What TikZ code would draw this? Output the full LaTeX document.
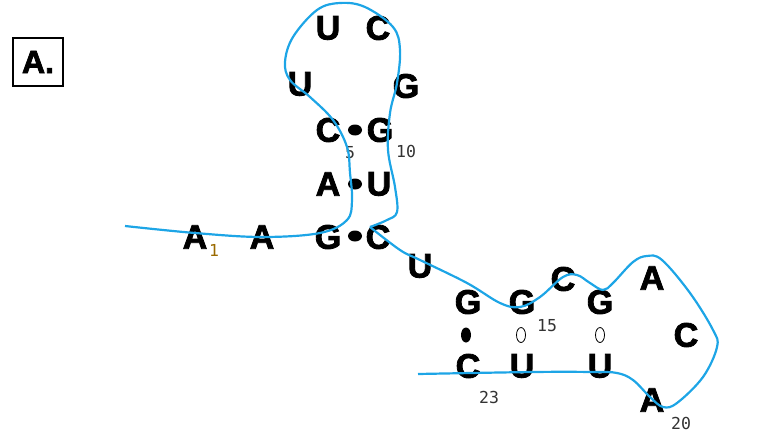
\documentclass[tikz,border=0pt]{standalone}
\usepackage{fontspec}
\setmainfont{Liberation Sans}
\newfontfamily\basefont[FakeBold=2.5]{Liberation Sans Bold}
\newfontfamily\numfont{DejaVu Sans Mono}
\definecolor{strandblue}{HTML}{1DA5E6}
\definecolor{numochre}{HTML}{9A6A00}
\definecolor{numgrey}{HTML}{333333}

\begin{document}
\begin{tikzpicture}[x=1pt, y=-1pt,
    base/.style={inner sep=0pt, font=\fontsize{34}{34}\selectfont\basefont},
    num/.style={inner sep=0pt, text=numgrey, font=\fontsize{16.5}{16.5}\selectfont\numfont},
    pairdot/.style={fill=black, draw=none},
    wobble/.style={draw=black, line width=0.8pt, fill=white}]
  \useasboundingbox (0,0) rectangle (783,433);
  % panel label
  \node[draw=black, line width=1.2pt, minimum width=50pt, minimum height=48pt,
        inner sep=0pt, font=\fontsize{32}{32}\selectfont\basefont]
    (panel) at (38,62) {A.};
  % bases, 5' to 3'
  \node[base] (b1)  at (195,237) {A};
  \node[base] (b2)  at (262,237) {A};
  \node[base] (b3)  at (328,237) {G};
  \node[base] (b4)  at (328,184) {A};
  \node[base] (b5)  at (328,130) {C};
  \node[base] (b6)  at (300,84)  {U};
  \node[base] (b7)  at (328,28)  {U};
  \node[base] (b8)  at (378,28)  {C};
  \node[base] (b9)  at (406,86)  {G};
  \node[base] (b10) at (380,130) {G};
  \node[base] (b11) at (379,184) {U};
  \node[base] (b12) at (378,237) {C};
  \node[base] (b13) at (420,266) {U};
  \node[base] (b14) at (468,302) {G};
  \node[base] (b15) at (522,302) {G};
  \node[base] (b16) at (563,279) {C};
  \node[base] (b17) at (600,302) {G};
  \node[base] (b18) at (652,278) {A};
  \node[base] (b19) at (686,335) {C};
  \node[base] (b20) at (652,400) {A};
  \node[base] (b21) at (600,366) {U};
  \node[base] (b22) at (522,366) {U};
  \node[base] (b23) at (468,366) {C};
  % pairs
  \fill[pairdot] (355,130) ellipse (7pt and 5.5pt);
  \fill[pairdot] (355,184) ellipse (7pt and 5.5pt);
  \fill[pairdot] (355,236) ellipse (7pt and 5.5pt);
  \fill[pairdot] (466,335) ellipse (5pt and 7.5pt);
  \draw[wobble] (521,335) ellipse (4.5pt and 7.5pt);
  \draw[wobble] (600,335) ellipse (4.5pt and 7.5pt);
  % numbering
  \node[num, text=numochre] (n1) at (214,250) {1};
  \node[num] (n5)  at (350,153) {5};
  \node[num] (n10) at (406,151) {10};
  \node[num] (n15) at (547,326) {15};
  \node[num] (n23) at (489,397) {23};
  \node[num] (n20) at (681,423) {20};
  % backbone trace
  \draw[strandblue, line width=2.2pt] plot[smooth, tension=0.6] coordinates {
    (125,226) (195,233) (262,237) (320,233) (347,220) (352,200) (350,173)
    (347,147) (333,120) (310,97) (290,80) (285,62) (293,37) (317,10)
    (340,3) (365,7) (393,27) (400,50) (397,83) (390,113) (388,150)
    (395,187) (397,212) (387,220) (370,227)};
  \draw[strandblue, line width=2.2pt] plot[smooth, tension=0.6] coordinates {
    (370,227) (400,250) (420,260) (467,283) (500,303) (520,307) (540,297)
    (563,277) (577,275) (590,283) (603,290) (613,283) (633,262) (647,256)
    (662,260) (690,293) (713,330) (717,347) (703,377) (677,403) (663,407)
    (650,397) (633,380) (617,373) (593,372) (533,372) (418,374)};
\end{tikzpicture}
\end{document}
